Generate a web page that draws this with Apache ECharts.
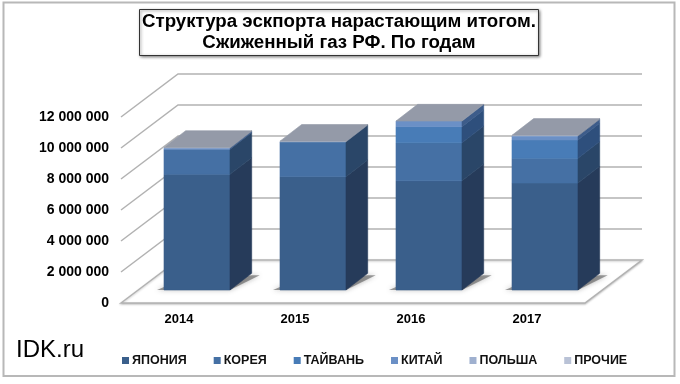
<!DOCTYPE html>
<html><head><meta charset="utf-8">
<style>html,body{margin:0;padding:0;background:#fff}#c{width:680px;height:384px}</style>
<script src="https://cdn.jsdelivr.net/npm/echarts@6/dist/echarts.min.js"></script>
</head><body><div id="c"></div>
<script>
const categories = ['2014','2015','2016','2017'];
const japan  = [7460000,7310000,7050000,6900000];
const korea  = [1620000,2250000,2450000,1600000];
const taiwan = [0,0,1040000,1180000];
const china  = [80000,0,360000,260000];
const poland = [0,0,0,0];
const other  = [40000,40000,0,40000];
const yTicks = [0,2000000,4000000,6000000,8000000,10000000,12000000];

const seriesDefs = [
  {name:'ЯПОНИЯ', values:japan,  front:'#3a5f8b', side:'#263b5a'},
  {name:'КОРЕЯ',  values:korea,  front:'#4570a4', side:'#2a4668'},
  {name:'ТАЙВАНЬ',values:taiwan, front:'#487cb7', side:'#2e4f7c'},
  {name:'КИТАЙ',  values:china,  front:'#6b90c6', side:'#3d5c8a'},
  {name:'ПОЛЬША', values:poland, front:'#9fb0cf', side:'#66789a'},
  {name:'ПРОЧИЕ', values:other,  front:'#b9c2d6', side:'#7a8498'}
];
const totals = categories.map((c,i)=>seriesDefs.reduce((s,d)=>s+d.values[i],0));

const WALL = [57,-43], BAR_OFF = [18,-13], BAR_D = [21.7,-16.7], BAR_W = 0.569;
const LINE = '#b2b2b2';

function poly(points, fill){
  return {type:'polygon',shape:{points},style:{fill,stroke:fill,lineWidth:0.6}};
}
function wallItem(params, api){
  const v = api.value(0);
  const y = api.coord([0,v])[1];
  const cs = params.coordSys;
  const x0 = cs.x, x1 = cs.x + cs.width;
  const children = [];
  const st = {stroke:LINE,lineWidth:1.5,fill:null};
  if(v===0){
    children.push({type:'polygon',shape:{points:[[x0,y],[x0+WALL[0],y+WALL[1]],[x1+WALL[0],y+WALL[1]],[x1,y]]},style:{fill:'#fff',stroke:LINE,lineWidth:1.5,shadowBlur:2,shadowColor:'rgba(0,0,0,0.2)',shadowOffsetY:1}});
  } else {
    children.push({type:'polyline',shape:{points:[[x0,y],[x0+WALL[0],y+WALL[1]],[x1+WALL[0],y+WALL[1]]]},style:st});
  }
  return {type:'group',children};
}
function shadowItem(params, api){
  const p = api.coord([api.value(0),0]);
  const w = api.size([1,0])[0]*BAR_W;
  const l = p[0]+BAR_OFF[0]-w/2, r = l+w, y = p[1]+BAR_OFF[1];
  return {type:'polygon',shape:{points:[[l-7,y],[r,y],[r+BAR_D[0]+8,y+BAR_D[1]+2],[r+BAR_D[0],y+BAR_D[1]+2],[l,y-3]]},
    style:{fill:'rgba(90,90,90,0.6)',stroke:null,shadowBlur:5,shadowColor:'rgba(60,60,60,0.6)'}};
}
function barItem(def,isLast){
  return function(params, api){
    const cat = api.value(0), a = api.value(1), b = api.value(2);
    const top = api.value(3);
    const pa = api.coord([cat,a]), pb = api.coord([cat,b]);
    const w = api.size([1,0])[0]*BAR_W;
    const l = pa[0]+BAR_OFF[0]-w/2, r = l+w;
    const ya = pa[1]+BAR_OFF[1], yb = pb[1]+BAR_OFF[1];
    const children = [];
    if(b>a){
      children.push(poly([[l,ya],[r,ya],[r,yb],[l,yb]],def.front));
      children.push(poly([[r,ya],[r+BAR_D[0],ya+BAR_D[1]],[r+BAR_D[0],yb+BAR_D[1]],[r,yb]],def.side));
    }
    if(isLast){
      const yt = api.coord([cat,top])[1]+BAR_OFF[1];
      children.push(poly([[l,yt],[r,yt],[r+BAR_D[0],yt+BAR_D[1]],[l+BAR_D[0],yt+BAR_D[1]]],'#949aa8'));
    }
    return {type:'group',children};
  };
}
const series = [
  {type:'custom',name:'_walls',silent:true,z:1,clip:false,coordinateSystem:'cartesian2d',
   data:yTicks.map(v=>[v]),encode:{y:0},renderItem:wallItem,legendHoverLink:false},
  {type:'custom',name:'_shadow',silent:true,z:2,clip:false,
   data:categories.map((c,i)=>[i]),encode:{x:0},renderItem:shadowItem}
];
seriesDefs.forEach((d,si)=>{
  const data = categories.map((c,i)=>{
    let base=0; for(let k=0;k<si;k++) base+=seriesDefs[k].values[i];
    return [i,base,base+d.values[i],totals[i]];
  });
  series.push({type:'custom',name:d.name,z:3,clip:false,data,
    dimensions:['cat','from','to','total'],encode:{x:0,y:[1,2]},
    itemStyle:{color:d.front},renderItem:barItem(d,si===seriesDefs.length-1)});
});

const chart = echarts.init(document.getElementById('c'),null,{renderer:'canvas'});
const FONT = '"Liberation Sans",Arial,sans-serif';
chart.setOption({
  animation:false,
  backgroundColor:'#fff',
  title:[
    {text:'Структура эскпорта нарастающим итогом.\nСжиженный газ РФ. По годам',
     left:336,top:9,textAlign:'center',padding:[2,3,2,3],
     borderColor:'#333',borderWidth:1,backgroundColor:'#fff',shadowBlur:3,shadowColor:'rgba(0,0,0,0.5)',shadowOffsetY:1,shadowOffsetX:1,
     textStyle:{fontFamily:FONT,fontSize:18.7,fontWeight:'bold',color:'#000',lineHeight:21.5}},
    {text:'IDK.ru',left:16,top:338,padding:0,textStyle:{fontFamily:FONT,fontSize:24,fontWeight:'normal',color:'#000'}}
  ],
  legend:{
    data:seriesDefs.map(d=>d.name),left:117,top:349,itemWidth:7,itemHeight:7,itemGap:27,icon:'rect',selectedMode:false,
    textStyle:{fontFamily:FONT,fontSize:12.5,fontWeight:'bold',color:'#111',padding:[0,0,0,-2]}
  },
  grid:{left:121,right:95,top:117,bottom:81,containLabel:false},
  xAxis:{type:'category',data:categories,axisLine:{show:false},axisTick:{show:false},
    axisLabel:{fontFamily:FONT,fontSize:13,fontWeight:'bold',color:'#000',margin:10}},
  yAxis:{type:'value',min:0,max:12000000,interval:2000000,
    axisLine:{show:false},axisTick:{show:false},splitLine:{show:false},
    axisLabel:{fontFamily:FONT,fontSize:14,fontWeight:'bold',color:'#000',margin:12,padding:[0,0,4,0],
      formatter:v=>String(v).replace(/\B(?=(\d{3})+$)/g,' ')}},
  graphic:[{type:'rect',shape:{x:3.5,y:2.5,width:671,height:373.5},style:{fill:null,stroke:'#b8b8b8',lineWidth:2},silent:true,z:100}],
  series
});
</script></body></html>
